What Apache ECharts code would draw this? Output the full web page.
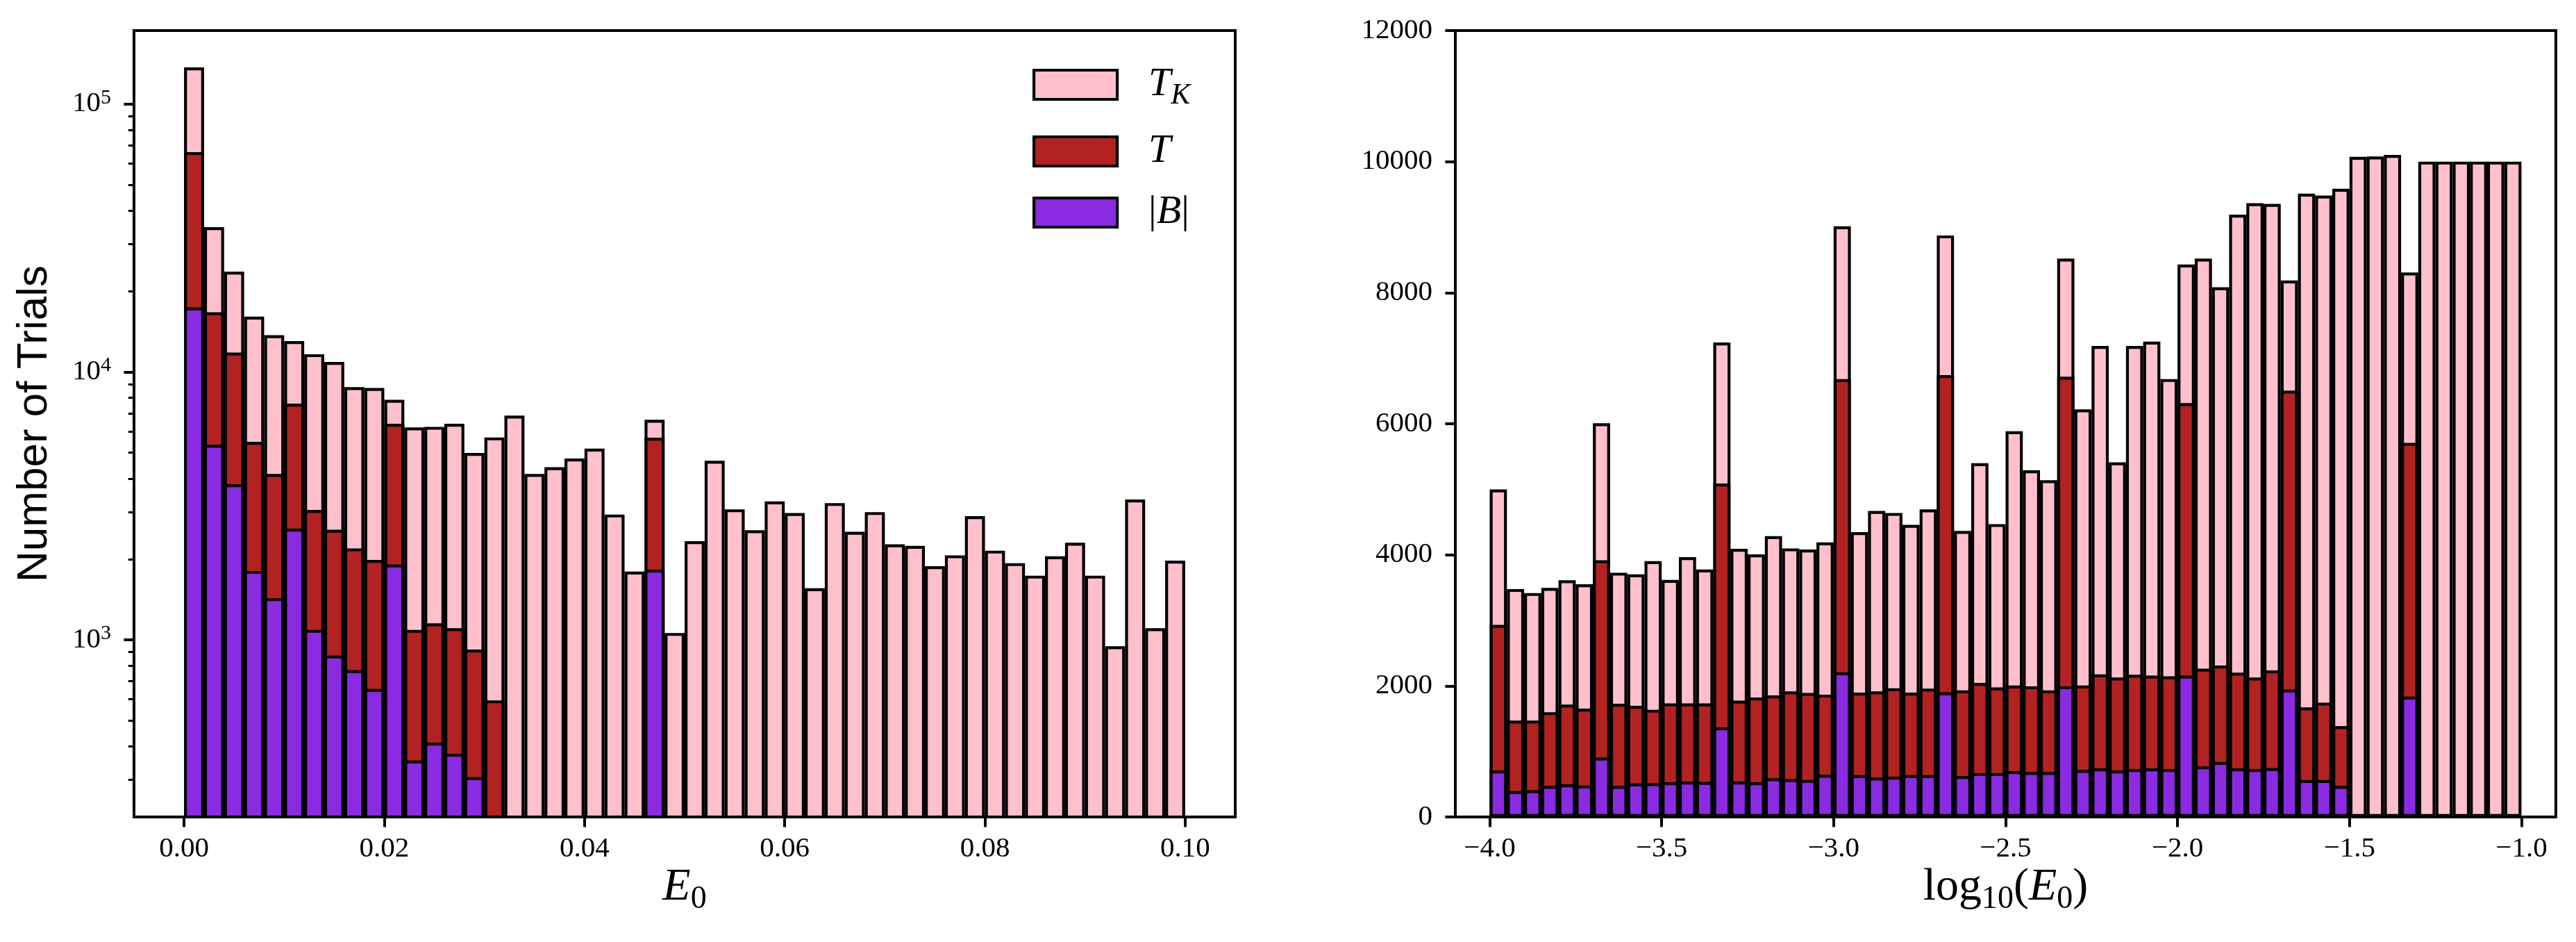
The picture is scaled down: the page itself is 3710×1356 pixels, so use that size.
<!DOCTYPE html>
<html>
<head>
<meta charset="utf-8">
<title>E0 histograms</title>
<script src="https://cdn.jsdelivr.net/npm/echarts@6/dist/echarts.min.js"></script>
<style>
  html, body { margin: 0; background: #fff; }
  #main { width: 3710px; height: 1356px; }
</style>
</head>
<body>
<div id="main"></div>
<script>
// left panel: 50 bins of width 0.002 between 0 and 0.1 (log y)
var linStart = 0, linWidth = 0.002;
var linTK = [137000, 34680, 23680, 16080, 13700, 13020, 11640, 10890, 8775, 8706,
             7864, 6203, 6236, 6403, 4983, 5693, 6864, 4156, 4406, 4748,
             5172, 2934, 1797, 6627, 1060, 2333, 4659, 3069, 2563, 3283,
             2972, 1557, 3238, 2529, 2996, 2271, 2240, 1881, 2066, 2893,
             2151, 1932, 1735, 2050, 2301, 1735, 946, 3337, 1104, 1974];
var linT = [66150, 16690, 11800, 5483, 4159, 7614, 3052, 2576, 2193, 1985,
            6403, 1089, 1152, 1104, 919, 594, null, null, null, null,
            null, null, null, 5678];
var linB = [17410, 5342, 3806, 1806, 1429, 2598, 1089, 873, 770, 655,
            1911, 354, 413, 375, 307, null, null, null, null, null,
            null, null, null, 1826];

// right panel: 60 bins of width 0.05 between -4 and -1 (linear y)
var logStart = -4, logWidth = 0.05;
var logTK = [4998, 3478, 3417, 3496, 3612, 3551, 6007, 3727, 3703, 3903,
             3618, 3964, 3776, 7240, 4092, 4007, 4286, 4098, 4080, 4189,
             9013, 4347, 4669, 4639, 4457, 4694, 8874, 4365, 5399, 4469,
             5885, 5290, 5138, 8521, 6220, 7187, 5411, 7187, 7253, 6682,
             8430, 8521, 8083, 9190, 9366, 9354, 8187, 9512, 9482, 9585,
             10072, 10078, 10102, 8308, 10000, 10000, 10000, 10000, 10000, 10000];
var logT = [2931, 1471, 1471, 1599, 1715, 1654, 3916, 1727, 1696, 1636,
            1733, 1733, 1733, 5088, 1775, 1824, 1854, 1915, 1891, 1867,
            6680, 1897, 1915, 1964, 1897, 1958, 6742, 1933, 2045, 1976,
            2006, 1994, 1933, 6718, 2006, 2177, 2128, 2171, 2158, 2146,
            6315, 2262, 2310, 2201, 2128, 2237, 6505, 1672, 1745, 1386,
            null, null, null, 5708];
var logB = [711, 395, 407, 474, 499, 480, 906, 474, 511, 517,
            529, 541, 535, 1368, 541, 529, 590, 578, 565, 644,
            2207, 638, 602, 614, 638, 638, 1903, 626, 669, 669,
            699, 687, 687, 1994, 717, 742, 711, 730, 742, 730,
            2158, 772, 839, 742, 730, 748, 1946, 565, 565, 474,
            null, null, null, 1836];

var linTicks = [0, 0.02, 0.04, 0.06, 0.08, 0.10];
var logTicks = [-4, -3.5, -3, -2.5, -2, -1.5, -1];
var decadeTicks = [1e3, 1e4, 1e5];
var minorTicks = [300, 400, 500, 600, 700, 800, 900,
                  2000, 3000, 4000, 5000, 6000, 7000, 8000, 9000,
                  20000, 30000, 40000, 50000, 60000, 70000, 80000, 90000];

var names = ['T_K', 'T', '|B|'];
var colors = ['#FFC0CB', '#B22222', '#8A2BE2'];

var serif = 'Liberation Serif';
var black = '#000';
var lw = 4;

function toPairs(start, width, values) {
  return values.map(function (v, i) {
    return [+(start + width * (i + 0.5)).toFixed(4), v];
  });
}

function bars(k, xi, yi, start, width, values) {
  return {
    type: 'bar', name: names[k], xAxisIndex: xi, yAxisIndex: yi,
    barWidth: '100%', barGap: '-100%', clip: true,
    itemStyle: { color: colors[k], borderColor: black, borderWidth: 4.2 },
    data: toPairs(start, width, values)
  };
}

var tickFont = { fontFamily: serif, fontSize: 41, color: black };
var nameRich = {
  r: { fontFamily: serif, fontSize: 66, color: black, lineHeight: 80 },
  i: { fontFamily: serif, fontStyle: 'italic', fontSize: 66, color: black, lineHeight: 80 },
  s: { fontFamily: serif, fontSize: 46, color: black, lineHeight: 50, verticalAlign: 'bottom' }
};

var chart = echarts.init(document.getElementById('main'), null, { renderer: 'canvas' });
chart.setOption({
  animation: false,
  backgroundColor: '#fff',
  grid: [
    { left: 193, top: 44, width: 1586, height: 1132, show: true, borderColor: black, borderWidth: lw, outerBoundsMode: 'none' },
    { left: 2096, top: 44, width: 1585, height: 1132, show: true, borderColor: black, borderWidth: lw, outerBoundsMode: 'none' }
  ],
  legend: {
    orient: 'vertical', left: 1482, top: 88,
    itemWidth: 120, itemHeight: 42, itemGap: 30, icon: 'rect',
    data: names,
    itemStyle: { borderColor: black, borderWidth: 4.2 },
    textStyle: { fontFamily: serif, fontSize: 58, color: black, padding: [0, 0, 0, 40],
      rich: {
        i: { fontFamily: serif, fontStyle: 'italic', fontSize: 58, lineHeight: 42 },
        n: { fontFamily: serif, fontSize: 58, lineHeight: 42 },
        s: { fontFamily: serif, fontStyle: 'italic', fontSize: 42, lineHeight: 10, height: 10, verticalAlign: 'bottom' }
      } },
    formatter: function (n) {
      if (n === 'T_K') return '{i|T}{s|K}';
      if (n === 'T') return '{i|T}';
      return '{n||}{i|B}{n||}';
    }
  },
  xAxis: [
    {
      type: 'value', gridIndex: 0, min: -0.005, max: 0.105,
      name: '{i|E}{s|0}', nameLocation: 'middle', nameGap: 62, nameMoveOverlap: false,
      nameTextStyle: { rich: nameRich },
      axisLine: { onZero: false, lineStyle: { color: black, width: lw } },
      axisTick: { customValues: linTicks, length: 14.6, lineStyle: { color: black, width: lw } },
      axisLabel: Object.assign({ customValues: linTicks, margin: 26,
        formatter: function (v) { return v.toFixed(2); } }, tickFont),
      splitLine: { show: false }
    },
    {
      type: 'value', gridIndex: 1, min: -4.1, max: -0.9,
      name: '{r|log}{s|10}{r|(}{i|E}{s|0}{r|)}', nameLocation: 'middle', nameGap: 62, nameMoveOverlap: false,
      nameTextStyle: { rich: nameRich },
      axisLine: { onZero: false, lineStyle: { color: black, width: lw } },
      axisTick: { customValues: logTicks, length: 14.6, lineStyle: { color: black, width: lw } },
      axisLabel: Object.assign({ customValues: logTicks, margin: 26,
        formatter: function (v) { return (v < 0 ? '\u2212' : '') + Math.abs(v).toFixed(1); } }, tickFont),
      splitLine: { show: false }
    }
  ],
  yAxis: [
    {
      type: 'log', gridIndex: 0, position: 'left', min: 218, max: 188000,
      name: 'Number of Trials', nameLocation: 'middle', nameRotate: 90, nameGap: 112, nameMoveOverlap: false,
      nameTextStyle: { fontFamily: 'Liberation Sans', fontSize: 62, color: black },
      axisLine: { onZero: false, lineStyle: { color: black, width: lw } },
      axisTick: { customValues: decadeTicks, length: 14.6, lineStyle: { color: black, width: lw } },
      axisLabel: {
        customValues: decadeTicks, margin: 33,
        formatter: function (v) { return '{b|10}{p|' + Math.round(Math.log10(v)) + '}'; },
        rich: {
          b: { fontFamily: serif, fontSize: 41, color: black, lineHeight: 46 },
          p: { fontFamily: serif, fontSize: 30, color: black, lineHeight: 30, height: 28, verticalAlign: 'top' }
        }
      },
      splitLine: { show: false }
    },
    {
      type: 'log', gridIndex: 0, position: 'left', min: 218, max: 188000,
      axisLine: { show: false, onZero: false },
      axisTick: { customValues: minorTicks, length: 8.3, lineStyle: { color: black, width: 3 } },
      axisLabel: { show: false },
      splitLine: { show: false }
    },
    {
      type: 'value', gridIndex: 1, position: 'left', min: 0, max: 12000, interval: 2000,
      axisLine: { show: true, onZero: false, lineStyle: { color: black, width: lw } },
      axisTick: { show: true, length: 14.6, lineStyle: { color: black, width: lw } },
      axisLabel: Object.assign({ margin: 33, formatter: function (v) { return String(v); } }, tickFont),
      splitLine: { show: false }
    }
  ],
  series: [
    bars(0, 0, 0, linStart, linWidth, linTK),
    bars(1, 0, 0, linStart, linWidth, linT),
    bars(2, 0, 0, linStart, linWidth, linB),
    bars(0, 1, 2, logStart, logWidth, logTK),
    bars(1, 1, 2, logStart, logWidth, logT),
    bars(2, 1, 2, logStart, logWidth, logB)
  ]
});
</script>
</body>
</html>
